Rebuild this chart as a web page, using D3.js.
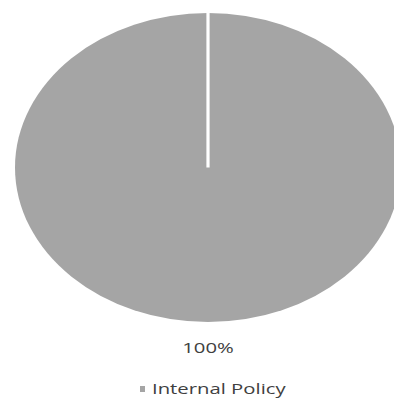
<!DOCTYPE html>
<html>
<head>
<meta charset="utf-8">
<script src="https://cdn.jsdelivr.net/npm/d3@7"></script>
<style>
  html, body { margin: 0; padding: 0; background: #fff; }
  svg { display: block; }
</style>
</head>
<body>
<svg id="chart" width="394" height="400"></svg>
<script>
// Chart data
const categories = ["Internal Policy"];
const values = [1];
const colors = ["#a5a5a5"];

const width = 394, height = 400;
const cx = 208, cy = 167.5;
const rx = 193, ry = 154.5;
const stretch = rx / ry;          // horizontal stretch of the whole drawing
const textStretch = 1.45;

const svg = d3.select("#chart");

const pie = d3.pie().sort(null).value(d => d);
const arcs = pie(values);
const total = d3.sum(values);

const arc = d3.arc().innerRadius(0).outerRadius(ry);

// Pie is drawn on a circle and stretched horizontally into an ellipse
const g = svg.append("g")
  .attr("transform", `translate(${cx},${cy}) scale(${stretch},1)`);

g.selectAll("path.slice")
  .data(arcs)
  .enter().append("path")
  .attr("class", "slice")
  .attr("d", arc)
  .attr("fill", (d, i) => colors[i]);

// Slice boundary lines (white separators from the centre to each start angle)
g.selectAll("line.sep")
  .data(arcs)
  .enter().append("line")
  .attr("class", "sep")
  .attr("x1", 0).attr("y1", 0)
  .attr("x2", d => d3.pointRadial(d.startAngle, ry + 2)[0])
  .attr("y2", d => d3.pointRadial(d.startAngle, ry + 2)[1])
  .attr("stroke", "#fff")
  .attr("stroke-width", 3.2 / stretch);

const font = "'Open Sans', 'DejaVu Sans', sans-serif";

// Percentage label under the pie
const fmt = d3.format(".0%");
svg.selectAll("g.pct")
  .data(arcs)
  .enter().append("g")
  .attr("class", "pct")
  .attr("transform", `translate(${cx},353) scale(${textStretch},1)`)
  .append("text")
  .attr("text-anchor", "middle")
  .attr("font-family", font)
  .attr("font-size", 14)
  .attr("fill", "#404040")
  .text(d => fmt(d.value / total));

// Legend
const legend = svg.append("g").attr("transform", "translate(0,394)");
const leg = legend.selectAll("g.item")
  .data(categories)
  .enter().append("g")
  .attr("class", "item");
leg.append("rect")
  .attr("x", 140).attr("y", -8)
  .attr("width", 5).attr("height", 6)
  .attr("fill", (d, i) => colors[i]);
leg.append("g")
  .attr("transform", `translate(152,0) scale(${textStretch},1)`)
  .append("text")
  .attr("x", 0).attr("y", 0)
  .attr("font-family", font)
  .attr("font-size", 14)
  .attr("fill", "#404040")
  .text(d => d);
</script>
</body>
</html>
